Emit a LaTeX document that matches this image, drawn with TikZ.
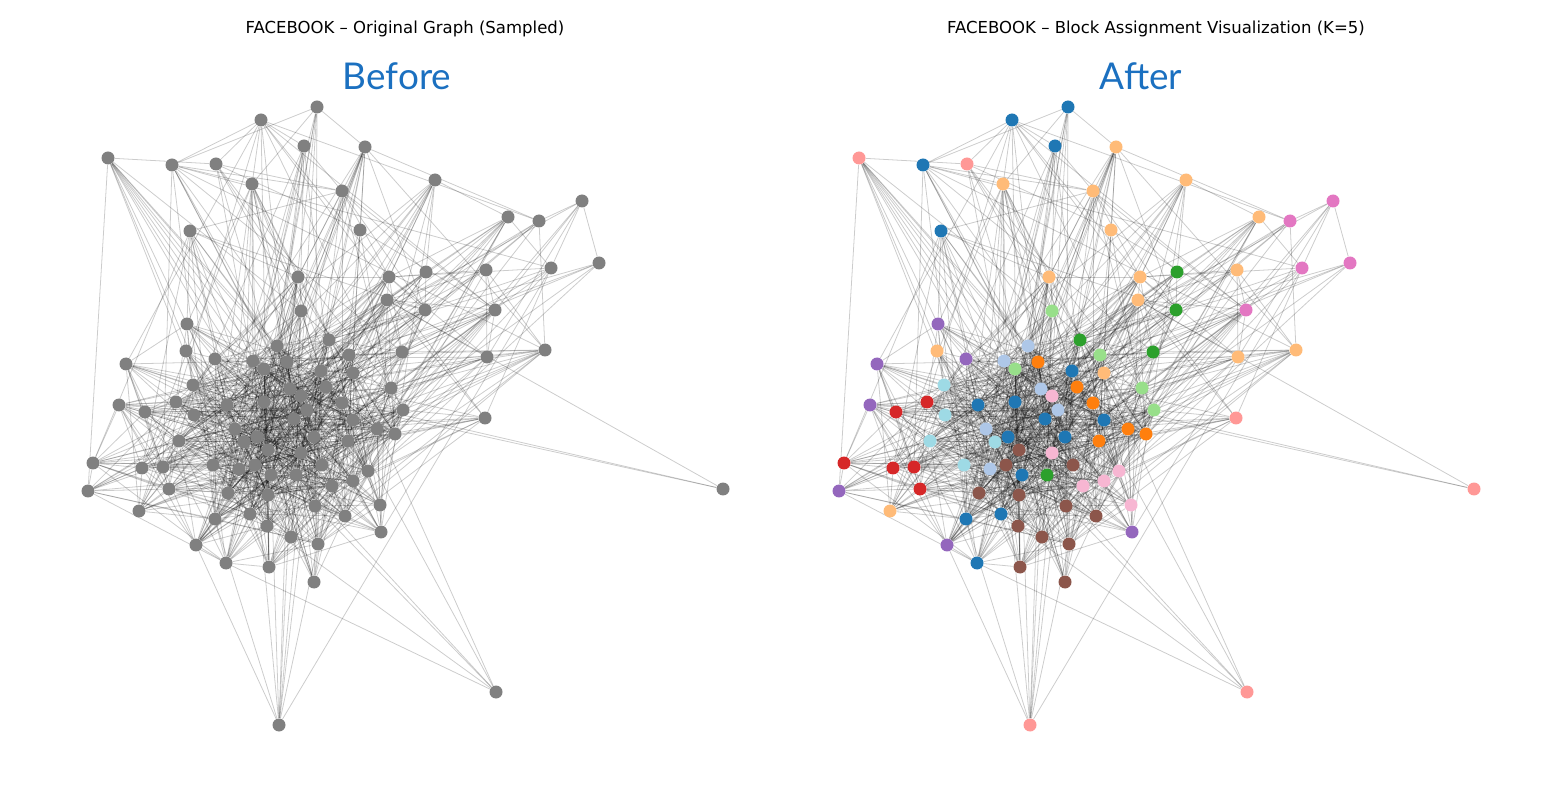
\documentclass[tikz,border=0pt]{standalone}
\usepackage{fontspec}
\setmainfont{DejaVu Sans}
\newfontfamily\headfont{Lato}

\definecolor{dotgray}{HTML}{808080}
\definecolor{headblue}{RGB}{27,112,192}
\definecolor{bl}{HTML}{1F77B4}
\definecolor{lb}{HTML}{AEC7E8}
\definecolor{or}{HTML}{FF7F0E}
\definecolor{lo}{HTML}{FFBB78}
\definecolor{gr}{HTML}{2CA02C}
\definecolor{lg}{HTML}{98DF8A}
\definecolor{rd}{HTML}{D62728}
\definecolor{lr}{HTML}{FF9896}
\definecolor{pu}{HTML}{9467BD}
\definecolor{br}{HTML}{8C564B}
\definecolor{pk}{HTML}{E377C2}
\definecolor{lp}{HTML}{F7B6D2}
\definecolor{cy}{HTML}{9EDAE5}

\pgfdeclarelayer{edges}
\pgfsetlayers{edges,main}

\tikzset{
  vertex/.style={circle, inner sep=0pt, minimum size=0.26cm},
  link/.style={draw=black, opacity=0.2, line width=0.45pt},
  title/.style={font=\fontsize{9.4}{11}\selectfont},
  head/.style={font=\headfont\fontsize{21}{25}\selectfont, text=headblue},
}

% x/y/block colour
\newcommand\vertexlist{%
  1068/107/bl, 1012/120/bl, 1055/146/bl, 1116/147/lo, 859/158/lr,
  923/165/bl, 967/164/lr, 1003/184/lo, 1093/191/lo, 1186/180/lo,
  941/231/bl, 1111/230/lo, 1333/201/pk, 1259/217/lo, 1290/221/pk,
  1350/263/pk, 1302/268/pk, 1177/272/gr, 1237/270/lo, 1049/277/lo,
  1140/277/lo, 1138/300/lo, 1176/310/gr, 1246/310/pk, 1052/311/lg,
  938/324/pu, 1153/352/gr, 1238/357/lo, 1296/350/lo, 1236/418/lr,
  1474/489/lr, 1247/692/lr, 1030/725/lr, 937/351/lo, 966/359/pu,
  1004/361/lb, 877/364/pu, 944/385/cy, 927/402/rd, 870/405/pu,
  896/412/rd, 945/415/cy, 978/405/bl, 986/429/lb, 930/441/cy,
  995/442/cy, 1008/437/bl, 1080/340/gr, 1028/346/lb, 1100/355/lg,
  1038/362/or, 1015/369/lg, 1072/371/bl, 1104/373/lo, 1077/387/or,
  1041/389/lb, 1142/388/lg, 1052/396/lp, 1015/402/bl, 1093/403/or,
  1058/410/lb, 1154/410/lg, 1045/419/bl, 1104/420/bl, 1128/429/or,
  1146/434/or, 1065/437/bl, 1099/441/or, 1019/450/br, 1052/453/lp,
  844/463/rd, 893/468/rd, 914/467/rd, 964/465/cy, 990/469/lb,
  920/489/rd, 979/493/br, 839/491/pu, 890/511/lo, 966/519/bl,
  947/545/pu, 977/563/bl, 1001/514/bl, 1006/465/br, 1073/465/br,
  1119/471/lp, 1022/475/bl, 1047/475/gr, 1104/481/lp, 1083/486/lp,
  1019/495/br, 1131/505/lp, 1066/506/br, 1096/516/br, 1018/526/br,
  1042/537/br, 1069/544/br, 1132/532/pu, 1020/567/br, 1065/582/br}

\newcommand\drawpanel{%
  \foreach \x/\y/\c [count=\i] in \vertexlist {
    \node[vertex, tint=\c] (v\i) at (\x,\y) {};
  }
  \begin{pgfonlayer}{edges}
    \linklist
  \end{pgfonlayer}
}

\begin{document}
\begin{tikzpicture}[x=0.02cm, y=-0.02cm]
  \useasboundingbox (0,0) rectangle (1561,810);

  % positions and closeness to the core, kept for the link draw
  \foreach \x/\y/\c [count=\i] in \vertexlist {
    \expandafter\xdef\csname vx\i\endcsname{\x}
    \expandafter\xdef\csname vy\i\endcsname{\y}
    \pgfmathsetmacro\w{exp(-veclen((\x-1040)/100,(\y-440)/100)/1.2)}
    \expandafter\xdef\csname vw\i\endcsname{\w}
  }
  \pgfmathsetseed{11}
  \gdef\linklist{}
  \foreach \i in {1,...,99} {
    \pgfmathtruncatemacro\k{\i+1}
    \foreach \j in {\k,...,100} {
      \pgfmathsetmacro\p{0.85*exp(-veclen((\csname vx\i\endcsname-\csname vx\j\endcsname)/100,(\csname vy\i\endcsname-\csname vy\j\endcsname)/100)/0.75)+0.12*(\csname vw\i\endcsname+\csname vw\j\endcsname)+0.008}
      \pgfmathsetmacro\r{rnd}
      \ifdim\r pt<\p pt
        \xdef\linklist{\unexpanded\expandafter{\linklist}\noexpand\draw[link] (v\i) -- (v\j);}
      \fi
    }
  }

  \node[title] (t-left) at (405,29) {FACEBOOK – Original Graph (Sampled)};
  \node[title] (t-right) at (1156,29) {FACEBOOK – Block Assignment Visualization (K=5)};
  \node[head] (h-left) at (397,76) {Before};
  \node[head] (h-right) at (1141,76) {After};

  \begin{scope}[name prefix=L-, shift={(-751,0)}, tint/.style={fill=dotgray}]
    \drawpanel
  \end{scope}
  \begin{scope}[name prefix=R-, tint/.style={fill=#1}]
    \drawpanel
  \end{scope}
\end{tikzpicture}
\end{document}
